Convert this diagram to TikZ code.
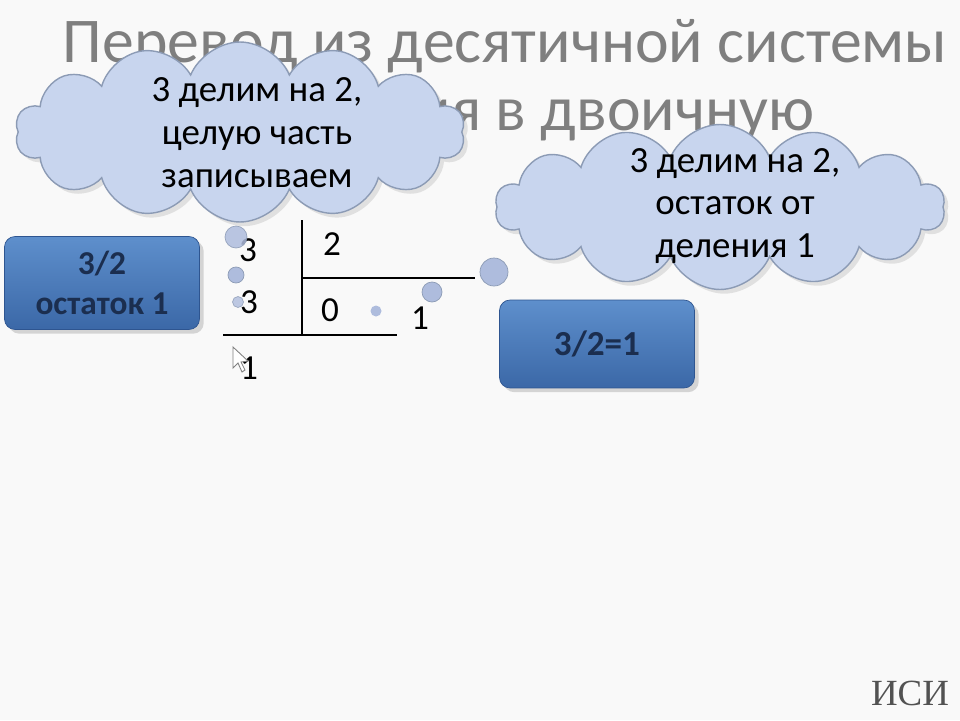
\documentclass[tikz,border=0pt]{standalone}
\usepackage{fontspec}
\setmainfont{Carlito}
\newfontfamily\serifmark{Liberation Serif}
\usetikzlibrary{shapes.symbols,shadows}

\definecolor{titlegray}{HTML}{7F7F7F}
\definecolor{cloudfill}{HTML}{C8D5EE}
\definecolor{cloudline}{HTML}{8C9BB5}
\definecolor{boxtop}{HTML}{5E8FCC}
\definecolor{boxbottom}{HTML}{3B68A7}
\definecolor{boxline}{HTML}{2E5590}
\definecolor{boxtext}{HTML}{1B2E4F}
\definecolor{bubblefill}{HTML}{AEBCDD}
\definecolor{slidebg}{HTML}{F9F9F9}

\begin{document}
\begin{tikzpicture}[
    x=0.02cm, y=-0.02cm,
    every node/.style={align=center},
    titletext/.style={text=titlegray, font=\fontsize{36.3}{44}\selectfont},
    thought/.style={cloud, cloud puffs=14, cloud puff arc=135, draw=cloudline,
                    fill=cloudfill, line width=0.8pt, inner sep=0pt,
                    drop shadow={opacity=0.2}},
    thoughttext/.style={font=\fontsize{21}{24.4}\selectfont},
    answerbox/.style={draw=boxline, rounded corners=6pt, top color=boxtop,
                    bottom color=boxbottom, text=boxtext, minimum width=3.9cm,
                    font=\fontsize{19}{22.7}\bfseries\selectfont,
                    drop shadow={opacity=0.3}},
    digit/.style={font=\fontsize{20}{24}\selectfont, inner sep=0pt},
    bubble/.style={circle, draw=cloudline, fill=bubblefill, inner sep=0pt},
    divline/.style={line width=1.4pt}
  ]
    % Fondo de la diapositiva
    \fill[slidebg] (0,0) rectangle (960,720);
    \useasboundingbox (0,0) rectangle (960,720);

    % Titulo
    \node[titletext, anchor=base] (title1) at (505,62) {Перевод из десятичной системы};
    \node[titletext, anchor=base] (title2) at (507,130) {счисления в двоичную};

    % Nubes
    \node[thought, minimum width=9cm, minimum height=3.6cm] (c1) at (240,132) {};
    \node[thoughttext] (c1text) at (257,133) {3 делим на 2,\\целую часть\\записываем};
    \node[thought, minimum width=9cm, minimum height=3.3cm] (c2) at (720,207) {};
    \node[thoughttext] (c2text) at (735,206) {3 делим на 2,\\остаток от\\деления 1};

    % Division en columna
    \coordinate (vtop) at (302,220);
    \coordinate (vbot) at (302,335);
    \coordinate (hright) at (475,278);
    \coordinate (vmid) at (302,278);
    \coordinate (bleft) at (223,335);
    \coordinate (bright) at (397,335);
    \draw[divline] (vtop) -- (vbot);
    \draw[divline] (vmid) -- (hright);
    \draw[divline] (bleft) -- (bright);

    \node[digit] (n3a) at (248,250) {3};
    \node[digit] (n2)  at (332,244) {2};
    \node[digit] (n3b) at (249,302) {3};
    \node[digit] (n0)  at (330,310) {0};
    \node[digit] (n1a) at (420,318) {1};
    \node[digit] (n1b) at (249,368) {1};

    % Burbujas
    \node[bubble, minimum size=0.44cm, opacity=0.85] (b1) at (236,237) {};
    \node[bubble, minimum size=0.32cm] (b2) at (236,275) {};
    \node[bubble, minimum size=0.22cm, opacity=0.8] (b3) at (238,302) {};
    \node[bubble, minimum size=0.56cm] (b4) at (494,272) {};
    \node[bubble, minimum size=0.40cm] (b5) at (432,292) {};
    \node[bubble, minimum size=0.22cm, draw=none] (b6) at (376,311) {};

    % Cursor
    \draw[gray, fill=white, line width=0.5pt] (233,347) -- (233,368) -- (238,363)
      -- (242,372) -- (245,370) -- (241,362) -- (248,361) -- cycle;

    % Rectangulos
    \node[answerbox, minimum height=1.86cm] (r1) at (102,283) {3/2\\остаток 1};
    \node[answerbox, minimum height=1.76cm, font=\fontsize{20}{24}\bfseries\selectfont]
      (r2) at (597,344) {3/2=1};

    % Marca
    \node[text=black!68, font=\serifmark\fontsize{21}{24}\selectfont] (mark) at (910,693) {ИСИ};
  \end{tikzpicture}
\end{document}
